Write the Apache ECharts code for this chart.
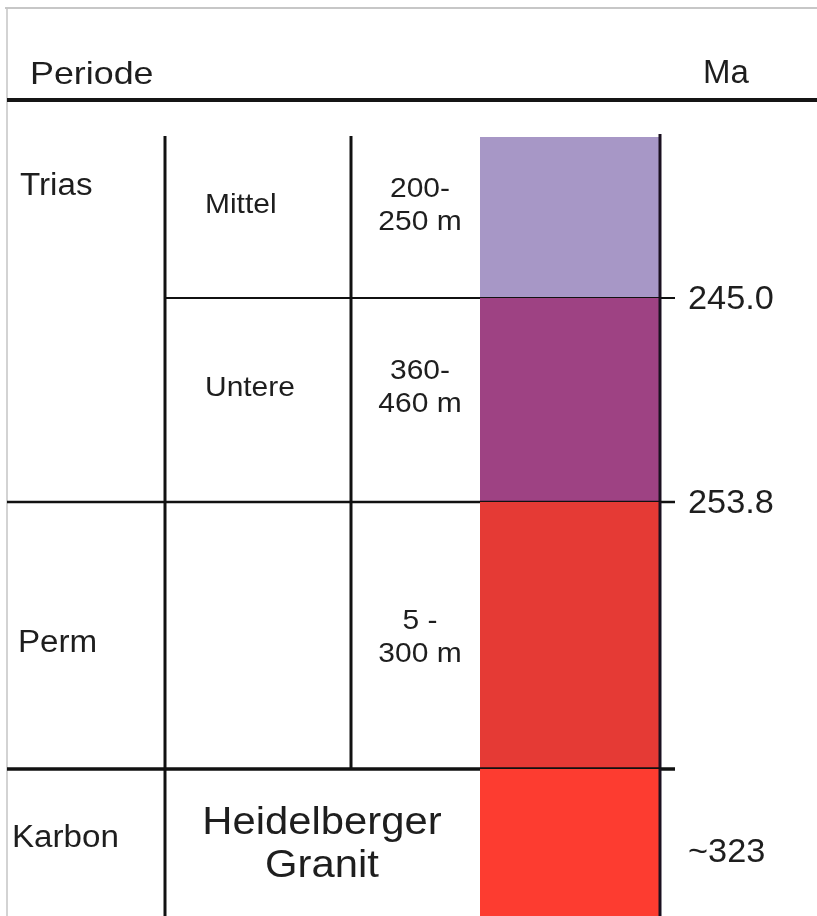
<!DOCTYPE html>
<html>
<head>
<meta charset="utf-8">
<script src="https://cdn.jsdelivr.net/npm/echarts@6/dist/echarts.min.js"></script>
<style>
html,body{margin:0;padding:0;background:#fff;}
#chart{width:817px;height:916px;}
</style>
</head>
<body>
<div id="chart"></div>
<script>
// ---- data ----
const periods = ['Trias', 'Trias', 'Perm', 'Karbon'];           // period of each layer
const units = ['Mittel', 'Untere', '', 'Heidelberger\nGranit'];  // sub-unit of each layer
const thickness = ['200-\n250 m', '360-\n460 m', '5 -\n300 m', ''];
const columnHeights = [161, 204, 267, 147];                       // schematic column height of each layer
const ages = ['245.0', '253.8', '', '~323'];                      // Ma labels (boundary below layer; last: layer age)
const headerLeft = 'Periode';
const headerRight = 'Ma';

// ---- styles / layout ----
const colors = ['#a797c6', '#9e4283', '#e53a35', '#fd3c30'];
const FONT = '"Liberation Sans", Arial, Helvetica, sans-serif';
const TXT = '#1e1e1e';
const SX = 1.07;
const X = {frame: 7, c1: 165, c2: 351, barL: 480, barR: 660, tickEnd: 675,
           periodText: 18, unitText: 205, thickCenter: 420, ageText: 688, granitCenter: 322};
const labelDy = [-12, -12, 2, 3];
const periodDy = {Trias: 49, Perm: 8, Karbon: -4};
const periodDx = {Trias: 2, Perm: 0, Karbon: -6};

const tops = [];
let acc = 0;
columnHeights.forEach(h => { tops.push(acc); acc += h; });
const total = acc;
const seriesData = columnHeights.map((h, i) => [tops[i], tops[i] + h, i]);

function txt(text, x, y, size, align, lineHeight, sx) {
  return {type: 'text', x: x, y: y, scaleX: sx || SX, scaleY: 1,
    style: {text: text, x: 0, y: 0, fill: TXT, font: size + 'px ' + FONT,
      lineHeight: lineHeight || Math.round(size * 1.18), align: align, verticalAlign: 'middle'}};
}

function renderItem(params, api) {
  const i = params.dataIndex;
  const top = api.value(0), bottom = api.value(1);
  const n = columnHeights.length;
  const pA = api.coord([X.barL, top]);
  const pB = api.coord([X.barR, bottom]);
  const yT = pA[1], yB = pB[1], yM = (yT + yB) / 2;
  const cx = x => api.coord([x, top])[0];
  const kids = [];
  kids.push({type: 'rect', shape: {x: pA[0], y: yT, width: pB[0] - pA[0], height: yB - yT},
             style: {fill: colors[i]}});
  // vertical separators
  kids.push({type: 'line', shape: {x1: cx(X.c1), y1: yT - (i === 0 ? 1 : 0), x2: cx(X.c1), y2: yB},
             style: {stroke: '#111', lineWidth: 3}});
  if (thickness[i]) {
    kids.push({type: 'line', shape: {x1: cx(X.c2), y1: yT - (i === 0 ? 1 : 0), x2: cx(X.c2), y2: yB},
               style: {stroke: '#111', lineWidth: 3}});
  }
  kids.push({type: 'line', shape: {x1: cx(X.barR), y1: yT - (i === 0 ? 3 : 0), x2: cx(X.barR), y2: yB},
             style: {stroke: '#1a1020', lineWidth: 3}});
  // boundary below layer
  if (i < n - 1) {
    const periodBreak = periods[i] !== periods[i + 1];
    const lw = i === n - 2 ? 3.5 : (periodBreak ? 2.5 : 2);
    kids.push({type: 'line', shape: {x1: cx(periodBreak ? X.frame : X.c1), y1: yB, x2: cx(X.tickEnd), y2: yB},
               style: {stroke: '#111', lineWidth: lw}});
  }
  // period label (once per period)
  if (i === 0 || periods[i] !== periods[i - 1]) {
    let j = i; while (j + 1 < n && periods[j + 1] === periods[i]) j++;
    const multi = j > i;
    const py = multi ? yT + periodDy[periods[i]] : yM + periodDy[periods[i]];
    kids.push(txt(periods[i], cx(X.periodText + periodDx[periods[i]]), py, 31, 'left'));
  }
  // unit label
  if (units[i]) {
    const isGranit = !thickness[i];
    if (isGranit) {
      kids.push(txt(units[i], cx(X.granitCenter), yM + labelDy[i], 38, 'center', 43, 1.1));
    } else {
      kids.push(txt(units[i], cx(X.unitText), yM + labelDy[i], 28, 'left'));
    }
  }
  if (thickness[i]) {
    kids.push(txt(thickness[i], cx(X.thickCenter), yM + labelDy[i], 28, 'center', 33));
  }
  if (ages[i]) {
    const ay = i === n - 1 ? yM + 10 : yB + 2;
    kids.push(txt(ages[i], cx(X.ageText), ay, 33, 'left', null, 1.04));
  }
  return {type: 'group', children: kids};
}

const chart = echarts.init(document.getElementById('chart'), null, {renderer: 'canvas'});
chart.setOption({
  animation: false,
  backgroundColor: '#fff',
  grid: {left: 0, right: 0, top: 137, bottom: 0},
  xAxis: {type: 'value', min: 0, max: 817, show: false},
  yAxis: {type: 'value', min: 0, max: total, inverse: true, show: false},
  graphic: [
    {type: 'line', shape: {x1: 5, y1: 8, x2: 817, y2: 8}, style: {stroke: '#b4b4b4', lineWidth: 1.5}},
    {type: 'line', shape: {x1: 7, y1: 8, x2: 7, y2: 916}, style: {stroke: '#c4c4c4', lineWidth: 1.5}},
    {type: 'text', x: 30, y: 75, scaleX: 1.12, style: {text: headerLeft, x: 0, y: 0, fill: TXT, font: '32px ' + FONT,
      align: 'left', verticalAlign: 'middle'}},
    {type: 'text', x: 703, y: 74, scaleX: 1.0, style: {text: headerRight, x: 0, y: 0, fill: TXT, font: '33px ' + FONT,
      align: 'left', verticalAlign: 'middle'}},
    {type: 'line', shape: {x1: 7, y1: 100, x2: 817, y2: 100}, style: {stroke: '#151515', lineWidth: 4}}
  ],
  series: [{
    type: 'custom',
    renderItem: renderItem,
    data: seriesData,
    encode: {y: [0, 1]},
    clip: false
  }]
});
</script>
</body>
</html>
